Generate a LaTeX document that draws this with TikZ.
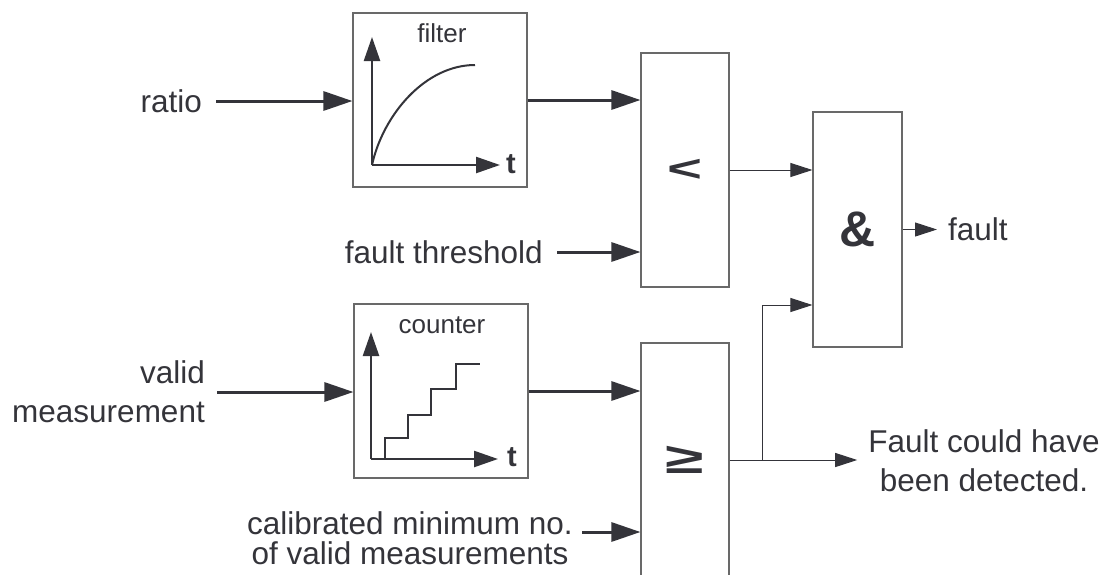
\documentclass[tikz,border=0pt]{standalone}
\usepackage{fontspec}
\setmainfont{Liberation Sans}
\usetikzlibrary{arrows.meta,calc}
\definecolor{ink}{RGB}{52,52,58}
\definecolor{frame}{RGB}{105,105,105}

\begin{document}
\begin{tikzpicture}[x=1pt,y=-1pt,
  every node/.style={text=ink},
  block/.style={draw=frame, line width=1.1pt, fill=white, inner sep=0pt},
  lbl/.style={font=\fontsize{31.5}{39}\selectfont, inner sep=0pt},
  small/.style={font=\fontsize{26}{26}\selectfont, inner sep=0pt},
  tlbl/.style={font=\fontsize{29}{29}\selectfont\bfseries, inner sep=0pt},
  sym/.style={font=\fontsize{50}{50}\selectfont\bfseries},
  heavy/.style={draw=ink, line width=3pt, -{Triangle[length=29pt,width=19pt]}},
  light/.style={draw=ink, line width=1pt, -{Triangle[length=22pt,width=14pt]}},
  axis/.style={draw=ink, line width=2.4pt, -{Triangle[length=24pt,width=16pt]}},
  curve/.style={draw=ink, line width=2pt},
]
\useasboundingbox (0,0) rectangle (1104,574);

% ---- blocks ----
\node[block, minimum width=174pt, minimum height=174pt] (filt) at (440,100) {};
\node[block, minimum width=174pt, minimum height=174pt] (cnt)  at (441,391) {};
\node[block, sym, minimum width=88pt, minimum height=234pt] (lt)   at (685,170)
  {\scalebox{1.2}[0.74]{<}};
\node[block, sym, minimum width=88pt, minimum height=234pt] (gte)  at (685,460)
  {\scalebox{1.4}[0.86]{≥}};
\node[block, sym, minimum width=89pt, minimum height=235pt] (andb) at (857.5,229.5) {\&};

% ---- filter graph ----
\node[small, anchor=base] (filtname) at (442,42) {filter};
\coordinate (fo) at (372,165);
\draw[axis] (fo) -- (372,37);
\draw[axis] (fo) -- (500,165);
\node[tlbl, anchor=base] (filtt) at (511,173) {t};
\draw[curve] (fo) .. controls (383,115) and (425,65) .. (475,65);

% ---- counter graph ----
\node[small, anchor=base] (cntname) at (442,333) {counter};
\coordinate (co) at (371,459);
\draw[axis] (co) -- (371,332);
\draw[axis] (co) -- (498,459);
\node[tlbl, anchor=base] (cntt) at (512,466) {t};
\draw[curve] (385,459) -- (385,438) -- (408,438) -- (408,415) -- (431,415)
  -- (431,389) -- (456,389) -- (456,364) -- (480,364);

% ---- input labels ----
\node[lbl, anchor=east, inner xsep=14pt] (ratio) at (216,101) {ratio};
\node[lbl, anchor=east, inner xsep=14pt] (thr) at (557,252) {fault threshold};
\node[lbl, anchor=east, inner xsep=12pt, align=right] (valid) at (217,392)
  {valid\\measurement};
\node[lbl, font=\fontsize{31.5}{30}\selectfont, align=center] (calib) at (410,538.5)
  {calibrated minimum no.\\of valid measurements};
\coordinate (calout) at (582,532);

% ---- output labels ----
\node[lbl, anchor=west, inner xsep=11pt] (fault) at (937,229) {fault};
\node[lbl, align=center, inner xsep=11pt] (fcd) at (984,461)
  {Fault could have\\been detected.};

% ---- connectors ----
\draw[heavy] (ratio.east) -- (filt.west |- ratio.east);
\draw[heavy] (filt.east) -- (lt.west |- filt.east);
\draw[heavy] (thr.east) -- (lt.west |- thr.east);
\draw[heavy] (valid.east) -- (cnt.west |- valid.east);
\draw[heavy] (cnt.east) -- (gte.west |- cnt.east);
\draw[heavy] (calout) -- (gte.west |- calout);

\draw[light] (lt.east) -- (andb.west |- lt.east);
\coordinate (split) at (762,460);
\draw[draw=ink, line width=1pt] (gte.east) -- (split);
\draw[light] (split) |- ($(andb.west)+(0,75.5)$);
\draw[light] (split) -- (fcd.west |- split);
\draw[light] (andb.east) -- (fault.west |- andb.east);
\end{tikzpicture}
\end{document}
